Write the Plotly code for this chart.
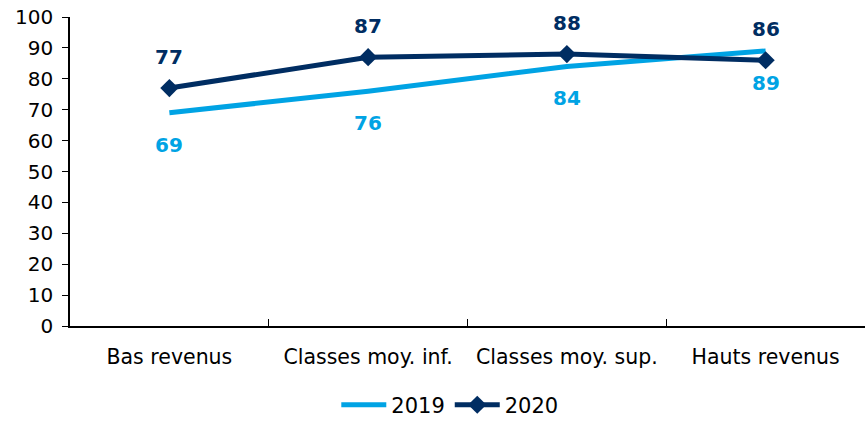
import plotly.graph_objects as go

categories = ["Bas revenus", "Classes moy. inf.", "Classes moy. sup.", "Hauts revenus"]
values_2019 = [69, 76, 84, 89]
values_2020 = [77, 87, 88, 86]
y_ticks = [0, 10, 20, 30, 40, 50, 60, 70, 80, 90, 100]

c2019 = "#00A3E4"
c2020 = "#002D62"
font = "DejaVu Sans, Verdana, sans-serif"

fig = go.Figure()
fig.add_trace(go.Scatter(x=categories, y=values_2019, name="2019", mode="lines",
                         line=dict(color=c2019, width=5)))
fig.add_trace(go.Scatter(x=categories, y=values_2020, name="2020", mode="lines+markers",
                         line=dict(color=c2020, width=5),
                         marker=dict(symbol="diamond", size=14, color=c2020)))

for c, v in zip(categories, values_2019):
    fig.add_annotation(x=c, y=v, text=f"<b>{v}</b>", showarrow=False, yshift=-32,
                       font=dict(family=font, size=20, color=c2019))
for c, v in zip(categories, values_2020):
    fig.add_annotation(x=c, y=v, text=f"<b>{v}</b>", showarrow=False, yshift=31,
                       font=dict(family=font, size=20, color=c2020))

fig.update_layout(
    width=865, height=422,
    margin=dict(l=70, r=0, t=17, b=96, autoexpand=False),
    plot_bgcolor="white", paper_bgcolor="white",
    font=dict(family=font, size=20, color="#000000"),
    showlegend=True,
    legend=dict(orientation="h", x=0.52, xref="container", xanchor="center",
                y=0.04, yref="container", yanchor="middle",
                font=dict(size=21), tracegroupgap=0, itemwidth=45),
)
fig.update_xaxes(type="category", range=[-0.5, 3.5], showline=True, linecolor="black",
                 linewidth=2, ticks="inside", tickson="boundaries", ticklen=7,
                 tickcolor="black", showgrid=False, ticklabelstandoff=11,
                 tickfont=dict(size=20.5))
fig.update_yaxes(range=[0, 100], tickvals=y_ticks, showline=True, linecolor="black",
                 linewidth=1.5, ticks="outside", ticklen=6, tickcolor="black",
                 showgrid=False, zeroline=False, ticklabelstandoff=5,
                 ticklabeloverflow="allow", tickfont=dict(size=20))

fig.write_html("out.html", config={"displayModeBar": False},
               post_script="document.body.style.margin='0px';")
